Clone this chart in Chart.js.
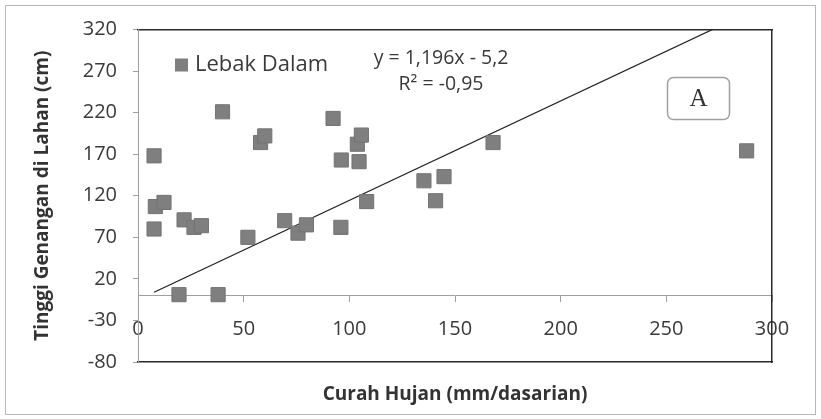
<!DOCTYPE html>
<html>
<head>
<meta charset="utf-8">
<script src="https://cdn.jsdelivr.net/npm/chart.js@4.4.0/dist/chart.umd.min.js"></script>
<style>
  html, body { margin: 0; padding: 0; background: #fff; }
  #wrap { position: relative; width: 821px; height: 419px; }
  #bingkai { position: absolute; left: 5px; top: 5px; width: 809px; height: 408px; border: 1px solid #b8b8b8; pointer-events: none; }
</style>
</head>
<body>
<div id="wrap">
  <canvas id="grafik" width="821" height="419"></canvas>
  <div id="bingkai"></div>
</div>
<script>
// Data Lebak Dalam
const curahHujan = [7.6, 8.2, 12.3, 7.6, 21.8, 26.5, 30, 52, 19.4, 37.9, 40, 58, 60, 69.4, 75.7, 79.7,
  92.3, 96, 96.2, 103.8, 105.7, 104.6, 108.2, 135.3, 144.8, 140.8, 168, 288];
const tinggiGenangan = [168, 107, 112, 80, 91, 82, 84, 70, 1, 1, 221, 184, 192, 90, 75, 85,
  213, 82, 163, 182, 193, 161, 113, 138, 143, 114, 184, 174];

// Garis tren y = 1,196x - 5,2
const trenX = [7.6, 271.9];
const trenY = [3.9, 320];

const ticksX = [0, 50, 100, 150, 200, 250, 300];
const ticksY = [-80, -30, 20, 70, 120, 170, 220, 270, 320];

const namaSeri = 'Lebak Dalam';
const persamaan = ['y = 1,196x - 5,2', 'R² = -0,95'];
const labelPanel = 'A';

const fonte = 'Open Sans';

// Legenda, persamaan dan kotak "A" di dalam area grafik
const catatan = {
  id: 'catatan',
  afterDraw(chart) {
    const ctx = chart.ctx;
    const a = chart.chartArea;
    ctx.save();
    // legenda
    ctx.fillStyle = '#7f7f7f';
    ctx.fillRect(a.left + 37, a.top + 29, 13, 13);
    ctx.fillStyle = '#3a3a3a';
    ctx.font = '22px "' + fonte + '"';
    ctx.textAlign = 'left';
    ctx.textBaseline = 'middle';
    ctx.fillText(namaSeri, a.left + 57, a.top + 35.5);
    // persamaan
    ctx.font = '19.5px "' + fonte + '"';
    ctx.textAlign = 'center';
    ctx.fillText(persamaan[0], 441, a.top + 29);
    ctx.fillText(persamaan[1], 441, a.top + 55);
    // kotak A
    ctx.strokeStyle = '#a0a0a0';
    ctx.lineWidth = 1.5;
    ctx.beginPath();
    ctx.roundRect(667.5, 77.5, 62, 42, 6);
    ctx.stroke();
    ctx.fillStyle = '#333';
    ctx.font = '25px "Liberation Serif"';
    ctx.fillText(labelPanel, 698.5, 99.5);
    ctx.restore();
  }
};

new Chart(document.getElementById('grafik').getContext('2d'), {
  type: 'scatter',
  data: {
    datasets: [
      {
        label: namaSeri,
        data: curahHujan.map((x, i) => ({ x: x, y: tinggiGenangan[i] })),
        pointStyle: 'rect',
        pointRadius: 10,
        backgroundColor: '#7f7f7f',
        borderColor: '#747474',
        borderWidth: 1,
        order: 1
      },
      {
        label: 'Tren',
        type: 'line',
        data: trenX.map((x, i) => ({ x: x, y: trenY[i] })),
        borderColor: '#222',
        borderWidth: 1.3,
        pointRadius: 0,
        fill: false,
        order: 2
      }
    ]
  },
  plugins: [catatan],
  options: {
    responsive: false,
    animation: false,
    layout: { padding: 0 },
    plugins: {
      legend: { display: false },
      tooltip: { enabled: false }
    },
    scales: {
      x: {
        type: 'linear',
        min: 0,
        max: 300,
        position: { y: 0 },
        afterBuildTicks: s => { s.ticks = ticksX.map(v => ({ value: v })); },
        afterFit: s => { s.height = 0; },
        grid: { drawOnChartArea: false, drawTicks: true, tickLength: 6, color: '#a0a0a0' },
        border: { display: true, color: '#a0a0a0', dash: [2, 2], width: 1 },
        ticks: { padding: 16, color: '#3a3a3a', font: { family: fonte, size: 20 }, maxRotation: 0, autoSkip: false }
      },
      xBawah: {
        type: 'linear',
        min: 0,
        max: 300,
        position: 'bottom',
        ticks: { display: false },
        grid: { display: false },
        border: { display: true, color: '#2a2a2a', width: 1.5 },
        title: {
          display: true,
          text: 'Curah Hujan (mm/dasarian)',
          color: '#333',
          font: { family: fonte, size: 19, weight: 'bold' },
          padding: { top: 0, bottom: 13 }
        },
        afterFit: s => { s.height = 57; }
      },
      xAtas: {
        type: 'linear',
        min: 0,
        max: 300,
        position: 'top',
        ticks: { display: false },
        grid: { display: false },
        border: { display: true, color: '#2a2a2a', width: 1.5 },
        afterFit: s => { s.height = 29.5; }
      },
      y: {
        type: 'linear',
        min: -80,
        max: 320,
        position: 'left',
        afterBuildTicks: s => { s.ticks = ticksY.map(v => ({ value: v })); },
        afterFit: s => { s.width = 138; },
        grid: { drawOnChartArea: false, drawTicks: true, tickLength: 5, color: '#a0a0a0' },
        border: { display: true, color: '#a0a0a0', width: 1 },
        ticks: { padding: 16, color: '#3a3a3a', font: { family: fonte, size: 20 } },
        title: {
          display: true,
          text: 'Tinggi Genangan di Lahan (cm)',
          color: '#333',
          font: { family: fonte, size: 19, weight: 'bold' },
          padding: { top: 31, bottom: 0 }
        }
      },
      yKanan: {
        type: 'linear',
        min: -80,
        max: 320,
        position: 'right',
        ticks: { display: false },
        grid: { display: false },
        border: { display: true, color: '#2a2a2a', width: 1.5 },
        afterFit: s => { s.width = 49; }
      }
    }
  }
});
</script>
</body>
</html>
